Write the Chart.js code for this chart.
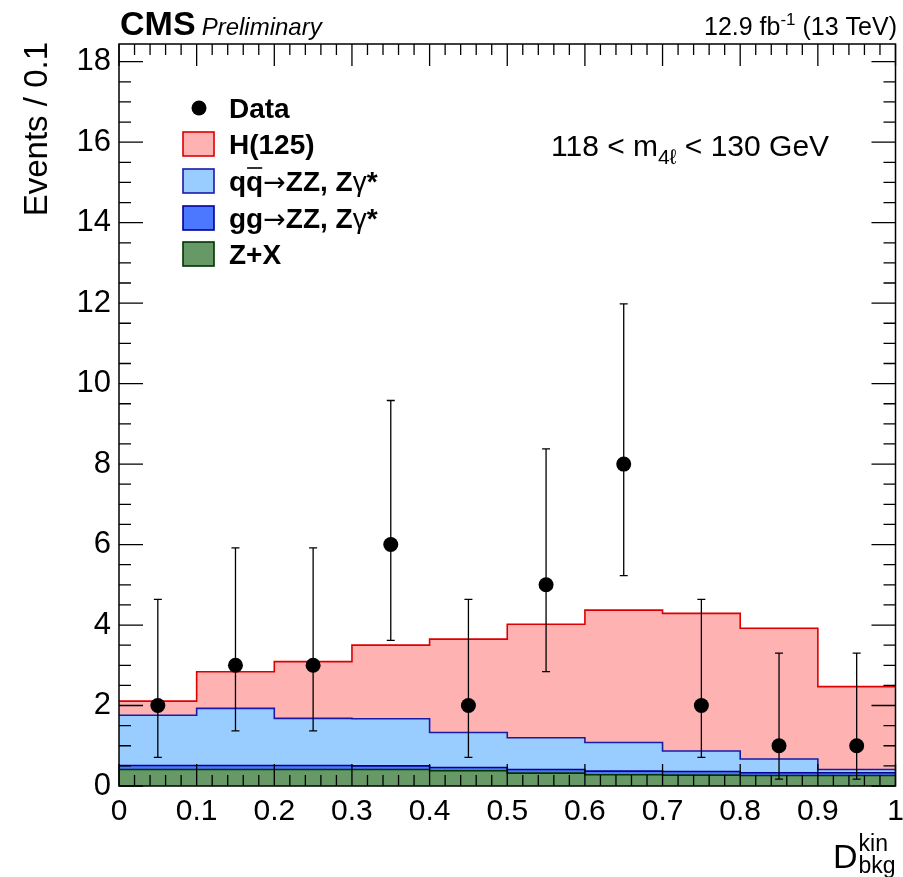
<!DOCTYPE html>
<html>
<head>
<meta charset="utf-8">
<title>Dbkg kin</title>
<script src="https://cdn.jsdelivr.net/npm/chart.js@4.4.0/dist/chart.umd.min.js"></script>
<style>
  body { margin: 0; background: #fff; }
  canvas { display: block; }
</style>
</head>
<body>
<canvas id="myChart" width="903" height="877"></canvas>
<script>
// bin edges / centres of D_bkg^kin
const binEdges = [0, 0.1, 0.2, 0.3, 0.4, 0.5, 0.6, 0.7, 0.8, 0.9, 1.0];
const binCenters = [0.05, 0.15, 0.25, 0.35, 0.45, 0.55, 0.65, 0.75, 0.85, 0.95];

// expected events per bin, per process (stacked bottom to top)
const zxValues = [0.41, 0.41, 0.41, 0.41, 0.38, 0.32, 0.28, 0.27, 0.26, 0.26];
const ggValues = [0.10, 0.10, 0.10, 0.09, 0.08, 0.09, 0.09, 0.09, 0.07, 0.07];
const qqValues = [1.25, 1.42, 1.17, 1.17, 0.87, 0.79, 0.71, 0.51, 0.34, 0.08];
const higgsValues = [0.35, 0.91, 1.41, 1.83, 2.32, 2.82, 3.29, 3.42, 3.25, 2.06];

// observed data with poisson intervals
const dataCounts = [2, 3, 3, 6, 2, 5, 8, 2, 1, 1];
const dataLow = [0.71, 1.37, 1.37, 3.62, 0.71, 2.84, 5.23, 0.71, 0.17, 0.17];
const dataHigh = [4.64, 5.92, 5.92, 9.58, 4.64, 8.38, 11.98, 4.64, 3.30, 3.30];

const xTicks = [0, 0.1, 0.2, 0.3, 0.4, 0.5, 0.6, 0.7, 0.8, 0.9, 1];
const yTicks = [0, 2, 4, 6, 8, 10, 12, 14, 16, 18];

const FONT = "'Liberation Sans', 'DejaVu Sans', Arial, sans-serif";
const SYM = "'DejaVu Sans', 'Liberation Sans', sans-serif";

const colZX = { fill: "#669966", line: "#003300" };
const colGG = { fill: "#4b78ff", line: "#000099" };
const colQQ = { fill: "#99ccff", line: "#1a1aa8" };
const colH = { fill: "#ffb2b2", line: "#dd0000" };

function addUp(a, b) {
  return a.map((v, i) => v + b[i]);
}
const zxTop = zxValues;
const ggTop = addUp(zxTop, ggValues);
const qqTop = addUp(ggTop, qqValues);
const hTop = addUp(qqTop, higgsValues);

// histogram as step points on the bin edges
function steps(vals) {
  return binEdges.map((x, i) => ({ x: x, y: vals[Math.min(i, vals.length - 1)] }));
}

function histDataset(label, vals, col, order) {
  return {
    type: "line",
    label: label,
    data: steps(vals),
    stepped: "before",
    fill: "origin",
    backgroundColor: col.fill,
    borderColor: col.line,
    borderWidth: 1.6,
    pointRadius: 0,
    order: order,
  };
}

function drawParts(ctx, x, y, parts) {
  parts.forEach((p) => {
    ctx.font = p.font;
    ctx.fillText(p.t, x, y + (p.dy || 0));
    const w = ctx.measureText(p.t).width;
    if (p.bar) {
      ctx.save();
      ctx.lineWidth = 1.6;
      ctx.beginPath();
      ctx.moveTo(x + 1, y - p.bar);
      ctx.lineTo(x + w - 1, y - p.bar);
      ctx.stroke();
      ctx.restore();
    }
    x += w;
  });
  return x;
}

function partsWidth(ctx, parts) {
  let w = 0;
  parts.forEach((p) => {
    ctx.font = p.font;
    w += ctx.measureText(p.t).width;
  });
  return w;
}

const cmsPlugin = {
  id: "cmsDecor",
  beforeDatasetDraw(chart, args) {
    if (args.meta.label !== "Data") return;
    const ctx = chart.ctx;
    const xs = chart.scales.x;
    const ys = chart.scales.y;
    ctx.save();
    ctx.strokeStyle = "#000";
    ctx.lineWidth = 1.3;
    binCenters.forEach((c, i) => {
      const px = xs.getPixelForValue(c);
      const lo = ys.getPixelForValue(dataLow[i]);
      const hi = ys.getPixelForValue(dataHigh[i]);
      ctx.beginPath();
      ctx.moveTo(px, lo);
      ctx.lineTo(px, hi);
      ctx.moveTo(px - 4, lo);
      ctx.lineTo(px + 4, lo);
      ctx.moveTo(px - 4, hi);
      ctx.lineTo(px + 4, hi);
      ctx.stroke();
    });
    ctx.restore();
  },
  afterDatasetsDraw(chart) {
    const ctx = chart.ctx;
    const a = chart.chartArea;
    const xs = chart.scales.x;
    const ys = chart.scales.y;
    ctx.save();
    ctx.strokeStyle = "#000";
    ctx.lineWidth = 1.3;
    ctx.beginPath();
    // x ticks, inward on bottom and top
    for (let i = 0; i < xTicks.length; i++) {
      const px = xs.getPixelForValue(xTicks[i]);
      ctx.moveTo(px, a.bottom);
      ctx.lineTo(px, a.bottom - 22);
      ctx.moveTo(px, a.top);
      ctx.lineTo(px, a.top + 22);
      if (i < xTicks.length - 1) {
        for (let k = 1; k < 5; k++) {
          const m = xs.getPixelForValue(xTicks[i] + (xTicks[i + 1] - xTicks[i]) * k / 5);
          ctx.moveTo(m, a.bottom);
          ctx.lineTo(m, a.bottom - 11);
          ctx.moveTo(m, a.top);
          ctx.lineTo(m, a.top + 11);
        }
      }
    }
    // y ticks, inward on left and right
    const yStep = yTicks[1] - yTicks[0];
    for (let i = 0; i < yTicks.length; i++) {
      const py = ys.getPixelForValue(yTicks[i]);
      ctx.moveTo(a.left, py);
      ctx.lineTo(a.left + 24, py);
      ctx.moveTo(a.right, py);
      ctx.lineTo(a.right - 24, py);
      for (let k = 1; k < 4; k++) {
        const v = yTicks[i] + yStep * k / 4;
        if (v > ys.max) break;
        const m = ys.getPixelForValue(v);
        ctx.moveTo(a.left, m);
        ctx.lineTo(a.left + 12, m);
        ctx.moveTo(a.right, m);
        ctx.lineTo(a.right - 12, m);
      }
    }
    ctx.stroke();
    ctx.lineWidth = 1.5;
    ctx.strokeRect(a.left, a.top, a.right - a.left, a.bottom - a.top);
    ctx.restore();
  },
  afterDraw(chart) {
    const ctx = chart.ctx;
    ctx.save();
    ctx.fillStyle = "#000";
    ctx.strokeStyle = "#000";
    ctx.textBaseline = "alphabetic";
    ctx.textAlign = "left";

    // header
    drawParts(ctx, 120, 35, [
      { t: "CMS", font: "bold 34px " + FONT },
      { t: " ", font: "22px " + FONT },
      { t: "Preliminary", font: "italic 24px " + FONT },
    ]);
    const lumi = [
      { t: "12.9 fb", font: "25px " + FONT },
      { t: "-1", font: "17px " + FONT, dy: -10 },
      { t: " (13 TeV)", font: "25px " + FONT },
    ];
    drawParts(ctx, 897 - partsWidth(ctx, lumi), 35, lumi);

    // mass window
    drawParts(ctx, 551, 156, [
      { t: "118 < m", font: "30px " + FONT },
      { t: "4\u2113", font: "21px " + FONT, dy: 8 },
      { t: " < 130 GeV", font: "30px " + FONT },
    ]);

    // legend
    const lx = 183, tx = 229;
    const rows = [108, 144, 181, 218, 254];
    ctx.beginPath();
    ctx.arc(199, rows[0], 7.5, 0, Math.PI * 2);
    ctx.fill();
    const boxes = [colH, colQQ, colGG, colZX];
    boxes.forEach((c, i) => {
      const cy = rows[i + 1];
      ctx.fillStyle = c.fill;
      ctx.fillRect(lx, cy - 12, 31, 24);
      ctx.strokeStyle = c.line;
      ctx.lineWidth = 1.6;
      ctx.strokeRect(lx, cy - 12, 31, 24);
    });
    ctx.fillStyle = "#000";
    ctx.strokeStyle = "#000";
    const bold = "bold 28px " + FONT;
    const arrow = "27px " + SYM;
    const norm = "28px " + FONT;
    drawParts(ctx, tx, rows[0] + 10, [{ t: "Data", font: bold }]);
    drawParts(ctx, tx, rows[1] + 10, [{ t: "H(125)", font: bold }]);
    drawParts(ctx, tx, rows[2] + 10, [
      { t: "q", font: bold },
      { t: "q", font: bold, bar: 23 },
      { t: "\u2192", font: arrow },
      { t: "ZZ, Z", font: bold },
      { t: "\u03b3", font: norm },
      { t: "*", font: bold },
    ]);
    drawParts(ctx, tx, rows[3] + 10, [
      { t: "gg", font: bold },
      { t: "\u2192", font: arrow },
      { t: "ZZ, Z", font: bold },
      { t: "\u03b3", font: norm },
      { t: "*", font: bold },
    ]);
    drawParts(ctx, tx, rows[4] + 10, [{ t: "Z+X", font: bold }]);

    // y axis title
    ctx.save();
    ctx.translate(47, 42);
    ctx.rotate(-Math.PI / 2);
    ctx.textAlign = "right";
    ctx.font = "33px " + FONT;
    ctx.fillText("Events / 0.1", 0, 0);
    ctx.restore();

    // x axis title
    ctx.font = "34px " + FONT;
    ctx.fillText("D", 833, 868);
    const dx = 833 + ctx.measureText("D").width + 1;
    ctx.font = "23px " + FONT;
    ctx.fillText("kin", dx, 851);
    ctx.fillText("bkg", dx, 873);
    ctx.restore();
  },
};

const config = {
  type: "line",
  data: {
    datasets: [
      {
        type: "scatter",
        label: "Data",
        data: binCenters.map((x, i) => ({ x: x, y: dataCounts[i] })),
        pointRadius: 7.5,
        pointHoverRadius: 7.5,
        backgroundColor: "#000",
        borderWidth: 0,
        order: 0,
      },
      histDataset("Z+X", zxTop, colZX, 1),
      histDataset("gg->ZZ", ggTop, colGG, 2),
      histDataset("qq->ZZ", qqTop, colQQ, 3),
      histDataset("H(125)", hTop, colH, 4),
    ],
  },
  options: {
    responsive: false,
    animation: false,
    events: [],
    layout: { padding: { top: 44, right: 4, left: 0, bottom: 0 } },
    scales: {
      x: {
        type: "linear",
        min: 0,
        max: 1,
        grid: { display: false, drawTicks: false },
        border: { display: false },
        ticks: {
          color: "#000",
          font: { family: FONT, size: 30 },
          padding: 8,
          maxRotation: 0,
          autoSkip: false,
          callback: (v) => String(v),
        },
        afterBuildTicks: (s) => {
          s.ticks = xTicks.map((v) => ({ value: v }));
        },
        afterFit: (s) => {
          s.height = 91;
          s.paddingLeft = 0;
          s.paddingRight = 0;
        },
      },
      y: {
        type: "linear",
        min: 0,
        max: 18.44,
        grid: { display: false, drawTicks: false },
        border: { display: false },
        ticks: {
          color: "#000",
          font: { family: FONT, size: 31 },
          padding: 8,
          callback: (v) => String(v),
        },
        afterBuildTicks: (s) => {
          s.ticks = yTicks.map((v) => ({ value: v }));
        },
        afterFit: (s) => {
          s.width = 119;
          s.paddingTop = 0;
          s.paddingBottom = 0;
        },
      },
    },
    plugins: {
      legend: { display: false },
      tooltip: { enabled: false },
    },
  },
  plugins: [cmsPlugin],
};

const myChart = new Chart(document.getElementById("myChart"), config);
</script>
</body>
</html>
